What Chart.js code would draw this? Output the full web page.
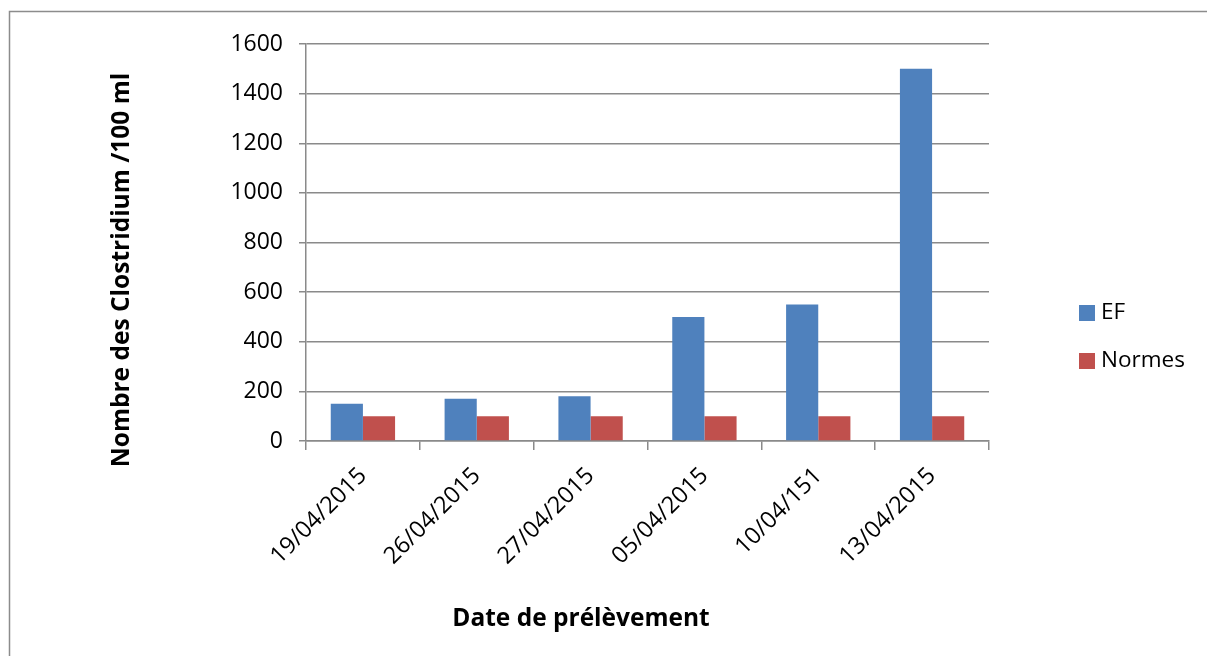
<!DOCTYPE html>
<html>
<head>
<meta charset="utf-8">
<script src="https://cdn.jsdelivr.net/npm/chart.js@4/dist/chart.umd.min.js"></script>
<style>
  html, body { margin: 0; padding: 0; background: #ffffff; }
  #wrap { width: 1207px; height: 656px; position: relative; }
</style>
</head>
<body>
<div id="wrap"><canvas id="c" width="1207" height="656"></canvas></div>
<script>
const categories = ['19/04/2015', '26/04/2015', '27/04/2015', '05/04/2015', '10/04/151', '13/04/2015'];
const efValues = [150, 170, 180, 500, 550, 1500];
const normesValues = [100, 100, 100, 100, 100, 100];
const yTicks = [0, 200, 400, 600, 800, 1000, 1200, 1400, 1600];

const seriesNames = ['EF', 'Normes'];
const seriesColors = ['#4F81BD', '#C0504D'];
const yTitle = 'Nombre des Clostridium /100 ml';
const xTitle = 'Date de prélèvement';

const FONT = '"Open Sans", Lato, sans-serif';
const GRID = '#8a8a8a';

// Outer frame, axis titles and the legend block on the right
const decorations = {
  id: 'decorations',
  afterDraw(chart) {
    const ctx = chart.ctx;
    ctx.save();
    ctx.strokeStyle = '#8c8c8c';
    ctx.lineWidth = 1.5;
    ctx.strokeRect(9.5, 11.5, 1200, 660);

    ctx.fillStyle = '#000000';
    ctx.font = 'bold 24.5px ' + FONT;
    ctx.textAlign = 'center';
    ctx.textBaseline = 'middle';
    ctx.save();
    ctx.translate(122, 270);
    ctx.rotate(-Math.PI / 2);
    ctx.fillText(yTitle, 0, 0);
    ctx.restore();
    ctx.fillText(xTitle, 581, 619);

    ctx.font = '22.5px ' + FONT;
    ctx.textAlign = 'left';
    const rows = [313, 361];
    chart.data.datasets.forEach((ds, i) => {
      ctx.fillStyle = ds.backgroundColor;
      ctx.fillRect(1079, rows[i] - 8, 16, 16);
      ctx.fillStyle = '#000000';
      ctx.fillText(ds.label, 1101, rows[i]);
    });
    ctx.restore();
  }
};

new Chart(document.getElementById('c'), {
  type: 'bar',
  data: {
    labels: categories,
    datasets: [
      { label: seriesNames[0], data: efValues, backgroundColor: seriesColors[0] },
      { label: seriesNames[1], data: normesValues, backgroundColor: seriesColors[1] }
    ]
  },
  options: {
    responsive: false,
    devicePixelRatio: 1,
    animation: false,
    layout: { padding: { top: 44, right: 218, bottom: 0, left: 0 } },
    datasets: { bar: { categoryPercentage: 0.565, barPercentage: 1.0 } },
    plugins: { legend: { display: false }, tooltip: { enabled: false } },
    scales: {
      x: {
        afterFit(scale) { scale.height = 215; },
        grid: { display: true, drawOnChartArea: false, offset: true, color: GRID, lineWidth: 1.5, tickLength: 9 },
        border: { display: true, color: GRID, width: 1.5 },
        ticks: {
          autoSkip: false, minRotation: 45, maxRotation: 45,
          color: '#000000', font: { family: FONT, size: 23.5 }, padding: 12, labelOffset: 0
        }
      },
      y: {
        min: 0, max: 1600,
        afterFit(scale) { scale.width = 306; },
        afterBuildTicks(scale) { scale.ticks = yTicks.map(v => ({ value: v })); },
        grid: { color: GRID, lineWidth: 1.5, tickLength: 7 },
        border: { display: true, color: GRID, width: 1.5 },
        ticks: { color: '#000000', font: { family: FONT, size: 23 }, padding: 16, callback: v => String(v) }
      }
    }
  },
  plugins: [decorations]
});
</script>
</body>
</html>
